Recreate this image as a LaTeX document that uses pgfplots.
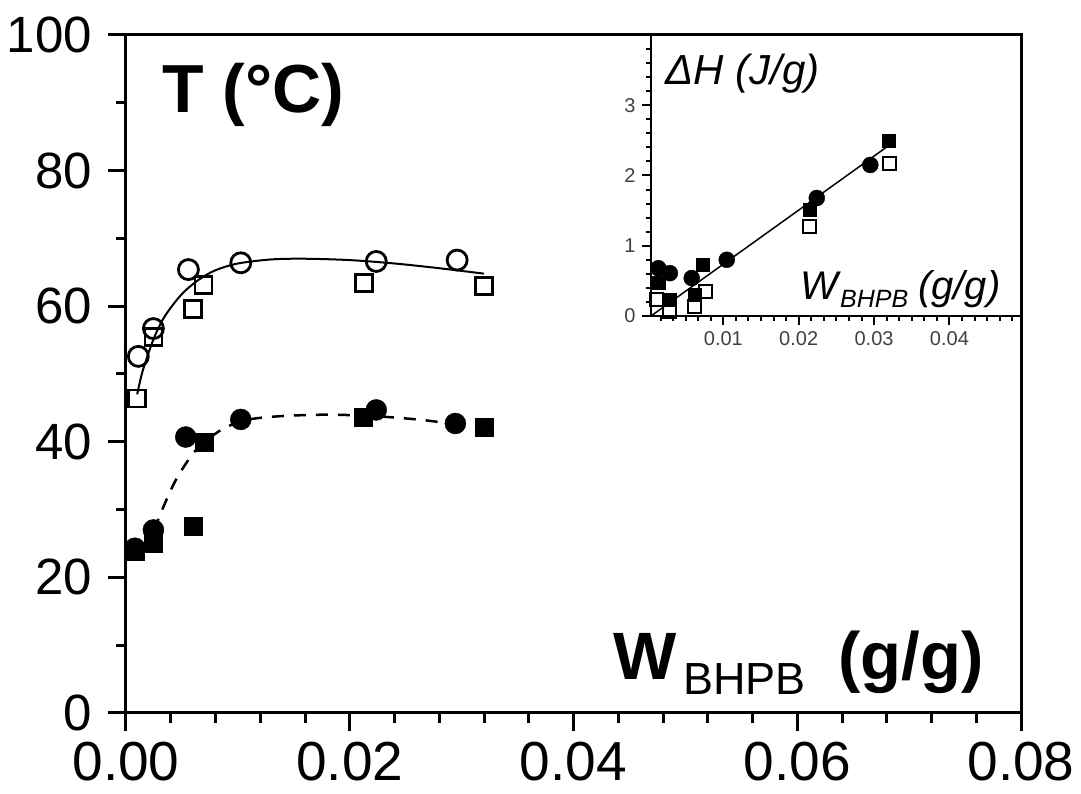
\documentclass[border=0pt]{standalone}
\usepackage{pgfplots}
\pgfplotsset{compat=1.18}
\usepackage{fontspec}
\setmainfont{Liberation Sans}
\begin{document}
\begin{tikzpicture}
\begin{axis}[
  at={(0pt,0pt)}, anchor=south west,
  scale only axis, width=895pt, height=678pt,
  xmin=0, xmax=0.08, ymin=0, ymax=100,
  xtick={0,0.02,0.04,0.06,0.08},
  ytick={0,20,40,60,80,100},
  minor x tick num=4, minor y tick num=1,
  scaled x ticks=false,
  xtick pos=bottom, ytick pos=left,
  tick align=outside,
  major tick length=18pt, minor tick length=10pt,
  every tick/.style={line width=3pt, black},
  axis line style={line width=3pt},
  /pgf/number format/assume math mode=true,
  xticklabel style={/pgf/number format/fixed, /pgf/number format/fixed zerofill, /pgf/number format/precision=2, font=\fontsize{55}{55}\selectfont, inner sep=0pt, yshift=-11pt},
  yticklabel style={font=\fontsize{51}{51}\selectfont, inner sep=0pt, xshift=-16pt},
  clip=false,
]
% upper solid curve
\addplot[black, line width=2pt, smooth] coordinates {
(0.0010,47.0) (0.0015,50.5) (0.0025,55.3) (0.0035,58.6) (0.0050,61.8) (0.0065,63.9) (0.0080,65.3) (0.0100,66.3) (0.0130,66.9) (0.0160,67.0) (0.0200,66.8) (0.0240,66.3) (0.0280,65.6) (0.0320,64.8)};
% lower dashed curve
\addplot[black, line width=2.5pt, smooth, dash pattern=on 12pt off 10pt] coordinates {
(0.0025,27.0) (0.0035,31.0) (0.0045,34.5) (0.0060,38.3) (0.0075,40.6) (0.0090,42.2) (0.0110,43.3) (0.0140,43.8) (0.0180,44.0) (0.0220,43.8) (0.0260,43.3) (0.0295,42.6)};
% open circles
\addplot[only marks, mark=o, mark size=10pt, mark options={line width=2.8pt, draw=black}] coordinates {
(0.0011,52.6) (0.00245,56.7) (0.00558,65.4) (0.01026,66.4) (0.02237,66.6) (0.0296,66.8)};
% open squares
\addplot[only marks, mark=square, mark size=8.5pt, mark options={line width=2.8pt, draw=black}] coordinates {
(0.00101,46.4) (0.00245,55.5) (0.00597,59.6) (0.00692,63.1) (0.02124,63.4) (0.03198,63.0)};
% solid circles
\addplot[only marks, mark=*, mark size=10.5pt, mark options={draw=black, fill=black}] coordinates {
(0.0008,24.3) (0.00245,27.0) (0.00534,40.7) (0.01026,43.3) (0.02237,44.7) (0.02944,42.7)};
% solid squares
\addplot[only marks, mark=square*, mark size=9pt, mark options={draw=black, fill=black}] coordinates {
(0.0008,23.8) (0.00245,25.0) (0.00597,27.5) (0.00698,40.0) (0.02124,43.7) (0.03198,42.2)};
\end{axis}

\begin{axis}[
  at={(525pt,397pt)}, anchor=south west,
  scale only axis, width=370pt, height=281pt,
  xmin=0.0004, xmax=0.0495, ymin=0, ymax=4,
  xtick={0.01,0.02,0.03,0.04},
  ytick={0,1,2,3},
  minor xtick={0.0016667,0.0033333,0.005,0.0066667,0.0083333,0.0116667,0.0133333,0.015,0.0166667,0.0183333,0.0216667,0.0233333,0.025,0.0266667,0.0283333,0.0316667,0.0333333,0.035,0.0366667,0.0383333,0.0416667,0.0433333,0.045,0.0466667,0.0483333},
  minor ytick={0.2,0.4,0.6,0.8,1.2,1.4,1.6,1.8,2.2,2.4,2.6,2.8,3.2,3.4,3.6,3.8},
  scaled x ticks=false,
  xtick pos=bottom, ytick pos=left,
  tick align=outside,
  major tick length=9pt, minor tick length=5pt,
  every tick/.style={line width=2pt, black},
  axis line style={line width=2pt},
  /pgf/number format/assume math mode=true,
  xticklabel style={/pgf/number format/fixed, /pgf/number format/fixed zerofill, /pgf/number format/precision=2, font=\fontsize{20}{20}\selectfont, text=black!75, yshift=-3pt},
  yticklabel style={font=\fontsize{20}{20}\selectfont, text=black!75, xshift=-3pt},
  clip=false,
]
\addplot[black, line width=1.5pt] coordinates {(0.0004,0.0) (0.0320,2.43)};
\addplot[only marks, mark=square, mark size=6.5pt, mark options={line width=2pt, draw=black}] coordinates {
(0.00115,0.23) (0.0029,0.06) (0.0062,0.13) (0.0076,0.35) (0.0214,1.27) (0.0320,2.17)};
\addplot[only marks, mark=square*, mark size=6.5pt, mark options={draw=black, fill=black}] coordinates {
(0.00137,0.47) (0.0029,0.23) (0.0062,0.30) (0.0073,0.73) (0.0214,1.51) (0.0320,2.50)};
\addplot[only marks, mark=*, mark size=8pt, mark options={draw=black, fill=black}] coordinates {
(0.00137,0.68) (0.0029,0.61) (0.0058,0.54) (0.01045,0.80) (0.0224,1.68) (0.0295,2.15)};
\end{axis}

% texts
\node[anchor=base west, inner sep=0pt, font=\fontsize{68}{68}\selectfont\bfseries] at (36pt,600pt) {T (°C)};
\node[anchor=base west, inner sep=0pt, font=\fontsize{67}{67}\selectfont\bfseries] at (487pt,33pt) {W};
\node[anchor=base west, inner sep=0pt, font=\fontsize{45}{45}\selectfont] at (557pt,18pt) {BHPB};
\node[anchor=base west, inner sep=0pt, font=\fontsize{67}{67}\selectfont\bfseries] at (712pt,33pt) {(g/g)};
\node[anchor=base west, inner sep=0pt, font=\fontsize{42}{42}\selectfont\itshape] at (539pt,628pt) {ΔH (J/g)};
\node[anchor=base west, inner sep=0pt, font=\fontsize{40}{40}\selectfont\itshape] at (674pt,413pt) {W};
\node[anchor=base west, inner sep=0pt, font=\fontsize{25}{25}\selectfont\itshape] at (714pt,405pt) {BHPB};
\node[anchor=base west, inner sep=0pt, font=\fontsize{40}{40}\selectfont\itshape] at (792pt,413pt) {(g/g)};

\pgfresetboundingbox
\useasboundingbox (-126pt,-81pt) rectangle (955pt,713pt);
\end{tikzpicture}
\end{document}
